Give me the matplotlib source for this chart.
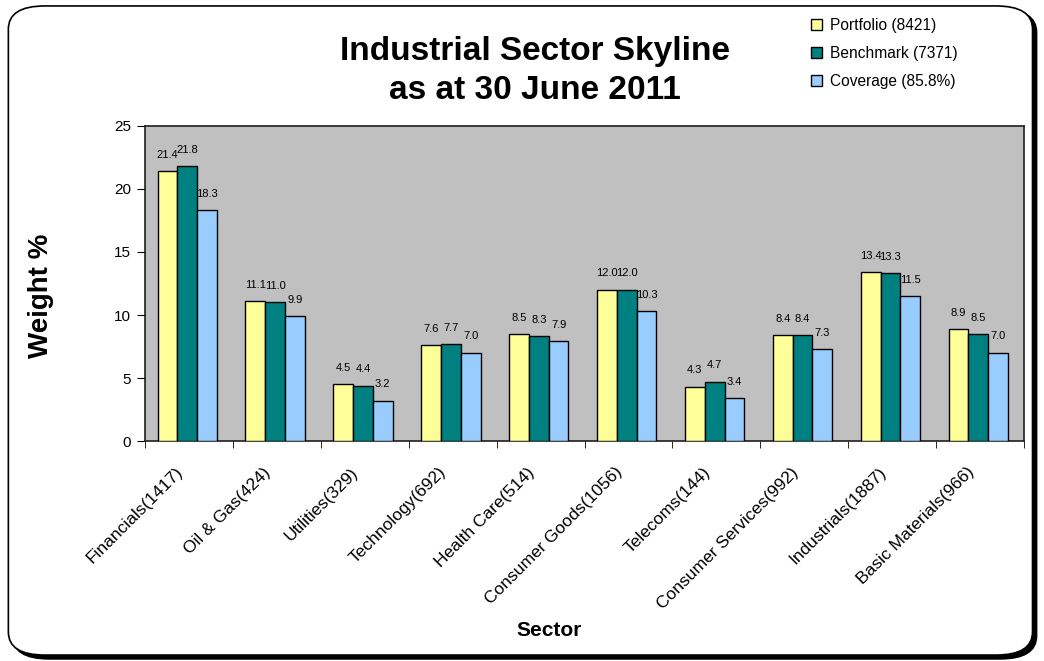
import matplotlib.pyplot as plt
import matplotlib.transforms as mtransforms
import numpy as np
from matplotlib.patches import FancyBboxPatch

plt.rcParams['font.family'] = ['Liberation Sans', 'DejaVu Sans']

sectors = ['Financials(1417)', 'Oil & Gas(424)', 'Utilities(329)', 'Technology(692)',
           'Health Care(514)', 'Consumer Goods(1056)', 'Telecoms(144)',
           'Consumer Services(992)', 'Industrials(1887)', 'Basic Materials(966)']
portfolio = [21.4, 11.1, 4.5, 7.6, 8.5, 12.0, 4.3, 8.4, 13.4, 8.9]
benchmark = [21.8, 11.0, 4.4, 7.7, 8.3, 12.0, 4.7, 8.4, 13.3, 8.5]
coverage = [18.3, 9.9, 3.2, 7.0, 7.9, 10.3, 3.4, 7.3, 11.5, 7.0]
series_names = ['Portfolio (8421)', 'Benchmark (7371)', 'Coverage (85.8%)']
colors = ['#FFFF99', '#008080', '#99CCFF']

fig = plt.figure(figsize=(10.44, 6.61), dpi=100)

# rounded outer frame with a drop shadow
shadow = FancyBboxPatch((0.012, 0.003), 0.981, 0.983, boxstyle='round,pad=0,rounding_size=0.035',
                        transform=fig.transFigure, facecolor='black', edgecolor='black', zorder=-2)
frame = FancyBboxPatch((0.008, 0.009), 0.981, 0.982, boxstyle='round,pad=0,rounding_size=0.035',
                       transform=fig.transFigure, facecolor='white', edgecolor='black', lw=1.2, zorder=-1)
fig.patches.extend([shadow, frame])

ax = fig.add_axes([0.1389, 0.3328, 0.842, 0.4766])
ax.set_facecolor('#C0C0C0')

x = np.arange(len(sectors))
w = 0.225
for i, (vals, name, c) in enumerate(zip([portfolio, benchmark, coverage], series_names, colors)):
    pos = x + (i - 1) * w - 0.02
    ax.bar(pos, vals, w, color=c, edgecolor='black', lw=1.0, label=name, zorder=3)
    for p, v in zip(pos, vals):
        ax.text(p, v + 0.9, f'{v:.1f}', ha='center', va='bottom', fontsize=8, zorder=4)

ax.set_xlim(-0.5, len(sectors) - 0.5)
ax.set_ylim(0, 25)
ax.set_yticks([0, 5, 10, 15, 20, 25])
ax.tick_params(axis='y', labelsize=11, direction='out', length=6, pad=4)
ax.set_xticks(x)
ax.set_xticklabels(sectors, rotation=45, ha='right', rotation_mode='anchor', fontsize=12.5)
ax.set_xticks(np.arange(-0.5, len(sectors)), minor=True)
ax.tick_params(axis='x', which='major', length=0, pad=17)
ax.tick_params(axis='x', which='minor', length=5, direction='out')
# nudge the slanted sector names a little to the left
shift = mtransforms.ScaledTranslation(-14 / 100, 0, fig.dpi_scale_trans)
for lbl in ax.get_xticklabels():
    lbl.set_transform(lbl.get_transform() + shift)
for s in ax.spines.values():
    s.set_color('#202020')
    s.set_linewidth(1.2)

ax.set_ylabel('Weight %', fontsize=20, fontweight='bold')
ax.yaxis.set_label_coords(-0.103, 0.46)
ax.set_xlabel('Sector', fontsize=15, fontweight='bold')
ax.xaxis.set_label_coords(0.46, -0.57)

fig.text(0.512, 0.892, 'Industrial Sector Skyline\nas at 30 June 2011', ha='center', va='center',
         fontsize=24, fontweight='bold', linespacing=1.33)

ax.legend(loc='upper left', bbox_to_anchor=(0.742, 1.386), frameon=False,
          prop={'size': 11.2},
          handlelength=0.7, handleheight=0.7, handletextpad=0.5, labelspacing=0.82)

fig.savefig('out.png', dpi=100)
